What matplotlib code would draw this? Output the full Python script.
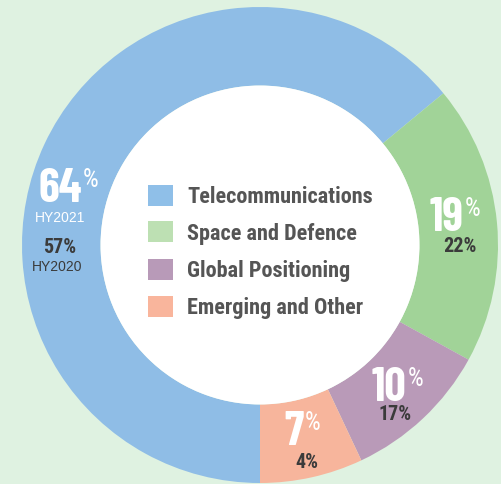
import matplotlib
matplotlib.use("Agg")
import matplotlib.pyplot as plt
from matplotlib import font_manager
from matplotlib.patches import Rectangle, Circle

categories = ["Telecommunications", "Space and Defence", "Global Positioning", "Emerging and Other"]
hy2021 = [64, 19, 10, 7]
hy2020 = [57, 22, 17, 4]
period_labels = ["HY2021", "HY2020"]
slice_colors = ["#8fbde6", "#a1d398", "#b99ab8", "#f7b59c"]
legend_colors = ["#8fbfe8", "#bde0b3", "#b89ab8", "#f9b59c"]
BG = "#dff2e1"
DARK = "#3b3b3b"
LEG_TXT = "#555555"
RING = 0.33

names = {f.name for f in font_manager.fontManager.ttflist}


def pick(cands):
    for c in cands:
        if c in names:
            return [c, "DejaVu Sans"]
    return ["DejaVu Sans"]


COND = pick(["Roboto Condensed", "Barlow Semi Condensed", "Barlow Condensed", "Archivo Narrow"])
BIG = pick(["Barlow Condensed", "Roboto Condensed", "Barlow Semi Condensed"])
REG = pick(["Liberation Sans", "Roboto", "DejaVu Sans"])

W, H = 502, 484
fig = plt.figure(figsize=(W / 100, H / 100), dpi=100, facecolor=BG)

cx, cy, R = 260, 245, 238
ax = fig.add_axes([(cx - R) / W, (H - cy - R) / H, 2 * R / W, 2 * R / H])
ax.set_facecolor(BG)
ax.pie(hy2021, colors=slice_colors, startangle=-90, counterclock=False,
       radius=1, wedgeprops=dict(width=RING, edgecolor="none", linewidth=0))
ax.add_patch(Circle((0, 0), 1 - RING, facecolor="white", edgecolor="none"))
ax.set_xlim(-1, 1)
ax.set_ylim(-1, 1)
ax.axis("off")


def fp(x, y):
    return (x / W, 1 - y / H)


renderer = fig.canvas.get_renderer()
PX = 100 / 72

# big percentage labels (HY2021) with small superscript %
big = [(60, 185), (447, 214), (389, 384), (294, 428)]
small = [(60, 248), (460, 247), (395, 415), (307, 462)]
BFS, PFS = 34, 18
bcap = BFS * PX * 0.70
pcap = PFS * PX * 0.711
for v, v0, (bx, by), (sx, sy) in zip(hy2021, hy2020, big, small):
    base = by + bcap / 2
    t = fig.text(*fp(bx, base), f"{v}", color="white", fontsize=BFS, fontweight="bold",
                 family=BIG, ha="center", va="baseline")
    bb = t.get_window_extent(renderer)
    fig.text((bb.x1 + 1) / W, 1 - (base - bcap + pcap + 1) / H, "%", color="white",
             fontsize=PFS, fontweight="normal", family=COND, ha="left", va="baseline")
    fig.text(*fp(sx, sy), f"{v0}%", color=DARK, fontsize=14.5,
             fontweight="bold", family=COND, ha="center", va="center")

fig.text(*fp(60, 218), period_labels[0], color="white", fontsize=10, family=REG,
         ha="center", va="center")
fig.text(*fp(57, 267), period_labels[1], color=DARK, fontsize=10, family=REG,
         ha="center", va="center")

# legend
probe = fig.text(0, 0, categories[0], fontsize=16, fontweight="bold", family=COND)
w = probe.get_window_extent(renderer).width
probe.remove()
lfs = 16 * 186 / w
cap = lfs * PX * 0.711
rows = [195, 232, 269, 306]
for lab, col, ry in zip(categories, legend_colors, rows):
    fig.patches.append(Rectangle(fp(148, ry + 10.5), 25 / W, 21 / H,
                                 transform=fig.transFigure, facecolor=col,
                                 edgecolor="none"))
    fig.text(*fp(187, ry + cap / 2), lab, color=LEG_TXT, fontsize=lfs,
             fontweight="bold", family=COND, ha="left", va="baseline")

fig.savefig("out.png", dpi=100, facecolor=BG)
